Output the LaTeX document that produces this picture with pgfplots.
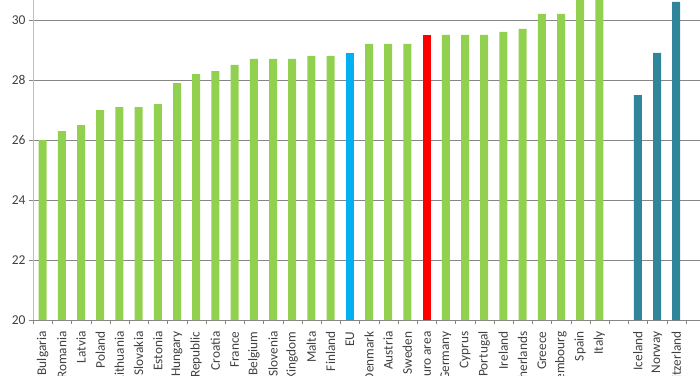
\documentclass[border=0pt]{standalone}
\usepackage{pgfplots}
\pgfplotsset{compat=1.18}
\usepackage{fontspec}
\setmainfont{Carlito}
\definecolor{eugreen}{RGB}{146,208,80}
\definecolor{eublue}{RGB}{0,176,240}
\definecolor{eared}{RGB}{255,0,0}
\definecolor{efta}{RGB}{49,133,155}
\definecolor{labelgray}{RGB}{64,64,64}
\definecolor{gridgray}{RGB}{134,134,134}
\definecolor{axisgray}{RGB}{190,190,190}
\begin{document}
\begin{tikzpicture}
\useasboundingbox (0,0) rectangle (700pt,375pt);
\clip (0,0) rectangle (700pt,375pt);
\begin{axis}[
  at={(33pt,55pt)}, anchor=south west, scale only axis,
  width=672pt, height=320pt,
  xmin=-0.5, xmax=34.5, ymin=20, ymax=30.6667,
  ybar, bar width=8pt, bar shift=0pt,
  axis x line*=bottom, axis y line*=left,
  x axis line style={gridgray, -},
  y axis line style={axisgray, -},
  x tick label as interval,
  xtick={-0.5,0.5,...,34.5},
  xticklabels={Bulgaria,Romania,Latvia,Poland,Lithuania,Slovakia,Estonia,Hungary,Czech Republic,Croatia,France,Belgium,Slovenia,United Kingdom,Malta,Finland,EU,Denmark,Austria,Sweden,Euro area,Germany,Cyprus,Portugal,Ireland,Netherlands,Greece,Luxembourg,Spain,Italy,{},Iceland,Norway,Switzerland,{}},
  xticklabel shift=4pt,
  xticklabel style={rotate=90, anchor=east, font=\fontsize{13.3}{15}\selectfont, text=labelgray},
  ytick={20,22,...,30},
  ymajorgrids, grid style={gridgray, line width=0.8pt},
  tick align=outside, major tick length=4pt,
  tick style={gridgray},
  /pgf/number format/assume math mode=true,
  yticklabel style={font=\fontsize{13.5}{15}\selectfont, text=labelgray},
]
\addplot[fill=eugreen, draw=none] coordinates {(0,26.0)(1,26.3)(2,26.5)(3,27.0)(4,27.1)(5,27.1)(6,27.2)(7,27.9)(8,28.2)(9,28.3)(10,28.5)(11,28.7)(12,28.7)(13,28.7)(14,28.8)(15,28.8)(17,29.2)(18,29.2)(19,29.2)(21,29.5)(22,29.5)(23,29.5)(24,29.6)(25,29.7)(26,30.2)(27,30.2)(28,31.0)(29,31.2)};
\addplot[fill=eublue, draw=none] coordinates {(16,28.9)};
\addplot[fill=eared, draw=none] coordinates {(20,29.5)};
\addplot[fill=efta, draw=none] coordinates {(31,27.5)(32,28.9)(33,30.6)};
\end{axis}
\end{tikzpicture}
\end{document}
